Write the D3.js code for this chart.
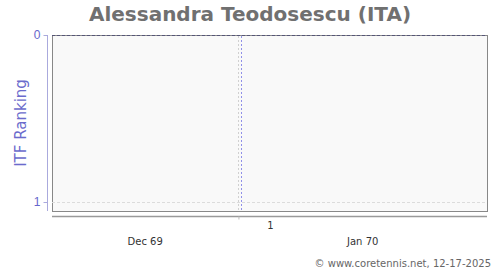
<!DOCTYPE html>
<html>
<head>
<meta charset="utf-8">
<script src="https://cdn.jsdelivr.net/npm/d3@7"></script>
<style>
  body { margin: 0; background: #fff; }
  svg { display: block; font-family: 'DejaVu Sans', sans-serif; }
</style>
</head>
<body>
<svg width="500" height="270"></svg>
<script>
// chart data
const playerName = 'Alessandra Teodosescu (ITA)'
const rankDates = ['1970-01-01T00:00:00']
const rankValues = [1]
const markerDates = ['1970-01-01T01:00:00']
const xDomain = ['1969-12-29T00:00:00', '1970-01-05T00:00:00']
const yTicks = [0, 1]
const monthLabels = ['Dec 69', 'Jan 70']
const dayLabels = ['1']
const footer = '\u00a9 www.coretennis.net, 12-17-2025'

const parse = d3.timeParse('%Y-%m-%dT%H:%M:%S')

let svg = d3.select('svg')
let margin = { top: 35, right: 13, bottom: 59, left: 52 }
let width = +svg.attr('width')
let height = +svg.attr('height')
let plotBottom = height - margin.bottom

let x = d3.scaleTime()
  .domain(xDomain.map(parse))
  .range([margin.left, width - margin.right])

// rank 0 on top, last rank line a little above the bottom edge
let y = d3.scaleLinear()
  .domain([0, 1])
  .range([margin.top, plotBottom - 9])

// title
svg.append('text')
  .attr('x', 250)
  .attr('y', 21)
  .attr('text-anchor', 'middle')
  .style('font-size', '20px')
  .style('font-weight', 'bold')
  .style('fill', '#707070')
  .text(playerName)

// plot background + frame
svg.append('rect')
  .attr('x', margin.left + 0.5)
  .attr('y', margin.top + 0.5)
  .attr('width', width - margin.right - margin.left)
  .attr('height', plotBottom - margin.top)
  .style('fill', '#f9f9f9')
  .style('stroke', '#888')
  .style('stroke-width', 1)

// horizontal grid
svg.append('g')
  .selectAll('line')
  .data(yTicks)
  .enter()
  .append('line')
  .attr('x1', margin.left)
  .attr('x2', width - margin.right)
  .attr('y1', d => Math.round(y(d)) + 0.5)
  .attr('y2', d => Math.round(y(d)) + 0.5)
  .style('stroke', (d, i) => i === 0 ? '#555577' : '#dcdcdc')
  .style('stroke-dasharray', '3,2')

// vertical month separators
let months = d3.timeMonth.range(x.domain()[0], x.domain()[1])
svg.append('g')
  .selectAll('line')
  .data(months)
  .enter()
  .append('line')
  .attr('x1', d => Math.round(x(d)) + 0.5)
  .attr('x2', d => Math.round(x(d)) + 0.5)
  .attr('y1', margin.top + 1)
  .attr('y2', plotBottom)
  .style('stroke', '#d0d0d0')
  .style('stroke-dasharray', '2,2')

// current marker
svg.append('g')
  .selectAll('line')
  .data(markerDates.map(parse))
  .enter()
  .append('line')
  .attr('x1', d => Math.round(x(d)) + 0.5)
  .attr('x2', d => Math.round(x(d)) + 0.5)
  .attr('y1', margin.top + 1)
  .attr('y2', plotBottom)
  .style('stroke', '#9090e8')
  .style('stroke-dasharray', '2,2')

// ranking series (single point, nothing visible to connect)
svg.append('path')
  .datum(rankDates.map((d, i) => [parse(d), rankValues[i]]))
  .attr('d', d3.line().x(d => x(d[0])).y(d => y(d[1])))
  .style('fill', 'none')
  .style('stroke', '#6666cc')

// y axis
let yAxis = svg.append('g')
  .attr('transform', 'translate(' + (margin.left - 4.5) + ',0)')
  .call(d3.axisLeft(y).tickValues(yTicks).tickSize(4).tickFormat(d3.format('d')))
yAxis.select('.domain')
  .attr('d', 'M0,' + margin.top + 'V' + plotBottom)
  .style('stroke', '#aaaadd')
yAxis.selectAll('.tick line').style('stroke', '#aaaadd')
yAxis.selectAll('.tick text')
  .style('fill', '#6666cc')
  .style('font-size', '12px')
  .attr('x', -7)

svg.append('text')
  .attr('transform', 'translate(26,' + ((margin.top + plotBottom) / 2) + ') rotate(-90)')
  .attr('text-anchor', 'middle')
  .style('font-size', '15px')
  .style('fill', '#6b6bcc')
  .text('ITF Ranking')

// x axis
let axisY = plotBottom + 5
let xAxis = svg.append('g')
  .attr('transform', 'translate(0,' + (axisY + 0.5) + ')')
  .call(d3.axisBottom(x).tickValues(months).tickSize(3).tickFormat(''))
xAxis.select('.domain')
  .attr('d', 'M' + margin.left + ',0H' + (width - margin.right))
  .style('stroke', '#999')
  .style('stroke-width', 1.5)
xAxis.selectAll('.tick line').style('stroke', '#bbb')

// day labels, centred in their day
let days = d3.timeDay.range(x.domain()[0], x.domain()[1])
  .filter(d => dayLabels.includes(String(d.getDate())))
svg.append('g')
  .selectAll('text')
  .data(days)
  .enter()
  .append('text')
  .attr('x', d => (x(d) + x(d3.timeDay.offset(d, 1))) / 2 + 1)
  .attr('y', axisY + 13)
  .attr('text-anchor', 'middle')
  .style('font-size', '10px')
  .style('fill', '#333')
  .text(d => String(d.getDate()))

// month labels, centred in the visible part of the month
let monthBounds = d3.timeMonth.range(d3.timeMonth.floor(x.domain()[0]), x.domain()[1])
svg.append('g')
  .selectAll('text')
  .data(monthBounds)
  .enter()
  .append('text')
  .attr('x', d => {
    let a = Math.max(x(d), x.range()[0])
    let b = Math.min(x(d3.timeMonth.offset(d, 1)), x.range()[1])
    return (a + b) / 2
  })
  .attr('y', axisY + 29)
  .attr('text-anchor', 'middle')
  .style('font-size', '10px')
  .style('fill', '#333')
  .text((d, i) => monthLabels[i])

// footer
svg.append('text')
  .attr('x', 491)
  .attr('y', 267)
  .attr('text-anchor', 'end')
  .style('font-size', '10px')
  .style('fill', '#666')
  .text(footer)
</script>
</body>
</html>
